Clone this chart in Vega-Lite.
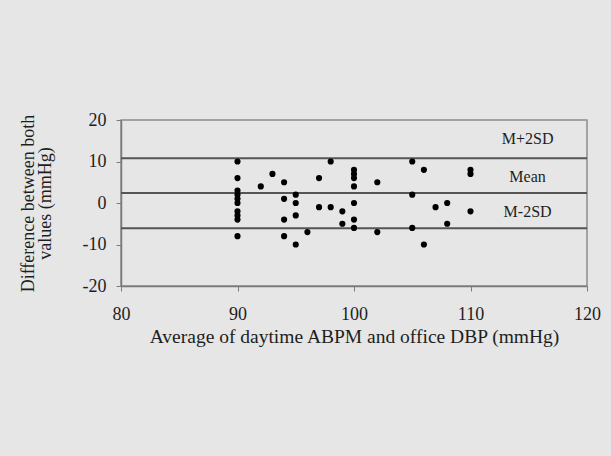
{
  "$schema": "https://vega.github.io/schema/vega-lite/v6.json",
  "autosize": {"type": "none"},
  "width": 466,
  "height": 166,
  "padding": {"left": 121, "top": 120, "right": 24, "bottom": 170},
  "background": "#e6e6e6",
  "config": {
    "view": {"fill": "#e6e6e6", "stroke": "#8c8c8c", "strokeWidth": 1.5},
    "font": "Liberation Serif",
    "axis": {
      "labelFont": "Liberation Serif",
      "titleFont": "Liberation Serif",
      "labelColor": "#1e1e1e",
      "titleColor": "#1e1e1e",
      "titleFontWeight": "normal",
      "domainColor": "#7a7a7a",
      "domainWidth": 1.5,
      "tickColor": "#7a7a7a",
      "grid": false
    }
  },
  "datasets": {
    "points": [
      {"avg": 90, "diff": 10}, {"avg": 90, "diff": 6}, {"avg": 90, "diff": 3}, {"avg": 90, "diff": 2},
      {"avg": 90, "diff": 1}, {"avg": 90, "diff": 0}, {"avg": 90, "diff": -2}, {"avg": 90, "diff": -3},
      {"avg": 90, "diff": -4}, {"avg": 90, "diff": -8},
      {"avg": 92, "diff": 4},
      {"avg": 93, "diff": 7},
      {"avg": 94, "diff": 5}, {"avg": 94, "diff": 1}, {"avg": 94, "diff": -4}, {"avg": 94, "diff": -8},
      {"avg": 95, "diff": 2}, {"avg": 95, "diff": 0}, {"avg": 95, "diff": -3}, {"avg": 95, "diff": -10},
      {"avg": 96, "diff": -7},
      {"avg": 97, "diff": 6}, {"avg": 97, "diff": -1},
      {"avg": 98, "diff": 10}, {"avg": 98, "diff": -1},
      {"avg": 99, "diff": -2}, {"avg": 99, "diff": -5},
      {"avg": 100, "diff": 8}, {"avg": 100, "diff": 7}, {"avg": 100, "diff": 6}, {"avg": 100, "diff": 4},
      {"avg": 100, "diff": 0}, {"avg": 100, "diff": -4}, {"avg": 100, "diff": -6},
      {"avg": 102, "diff": 5}, {"avg": 102, "diff": -7},
      {"avg": 105, "diff": 10}, {"avg": 105, "diff": 2}, {"avg": 105, "diff": -6},
      {"avg": 106, "diff": 8}, {"avg": 106, "diff": -10},
      {"avg": 107, "diff": -1},
      {"avg": 108, "diff": 0}, {"avg": 108, "diff": -5},
      {"avg": 110, "diff": 8}, {"avg": 110, "diff": 7}, {"avg": 110, "diff": -2}
    ],
    "lines": [
      {"name": "M+2SD", "value": 10.8},
      {"name": "Mean", "value": 2.4},
      {"name": "M-2SD", "value": -6.1}
    ],
    "labels": [
      {"label": "M+2SD", "avg": 114.9, "diff": 15.5},
      {"label": "Mean", "avg": 114.9, "diff": 6.3},
      {"label": "M-2SD", "avg": 114.9, "diff": -2.2}
    ]
  },
  "layer": [
    {
      "data": {"name": "lines"},
      "mark": {"type": "rule", "color": "#555555", "strokeWidth": 2},
      "encoding": {
        "y": {"field": "value", "type": "quantitative", "scale": {"domain": [-20, 20]}}
      }
    },
    {
      "data": {"name": "points"},
      "mark": {"type": "circle", "color": "#000000", "opacity": 1, "size": 38},
      "encoding": {
        "x": {
          "field": "avg", "type": "quantitative",
          "scale": {"domain": [80, 120], "nice": false, "zero": false},
          "axis": {
            "values": [80, 90, 100, 110, 120],
            "title": "Average of daytime ABPM and office DBP (mmHg)",
            "titleFontSize": 19.5,
            "titlePadding": 4,
            "labelFontSize": 18,
            "labelPadding": 14,
            "tickSize": 5,
            "labelFlush": false
          }
        },
        "y": {
          "field": "diff", "type": "quantitative",
          "scale": {"domain": [-20, 20], "nice": false},
          "axis": {
            "values": [-20, -10, 0, 10, 20],
            "labelExpr": "'' + datum.value",
            "title": ["Difference between both", "values (mmHg)"],
            "titleFontSize": 18,
            "titleLineHeight": 17,
            "titlePadding": 28,
            "labelFontSize": 18,
            "labelPadding": 10,
            "tickSize": 5,
            "labelFlush": false
          }
        }
      }
    },
    {
      "data": {"name": "labels"},
      "mark": {"type": "text", "font": "Liberation Serif", "fontSize": 16, "color": "#1e1e1e"},
      "encoding": {
        "x": {"field": "avg", "type": "quantitative"},
        "y": {"field": "diff", "type": "quantitative"},
        "text": {"field": "label"}
      }
    }
  ]
}
